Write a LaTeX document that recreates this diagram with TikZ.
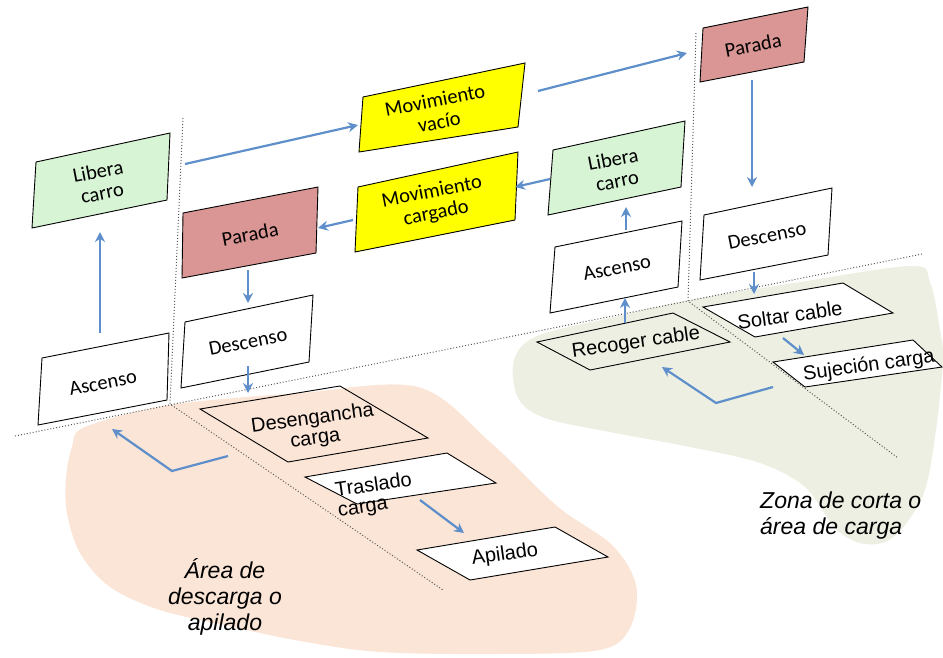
\documentclass[tikz,border=0pt]{standalone}
\usepackage{fontspec}
\setmainfont{Carlito}
\newfontfamily\arialf{Liberation Sans}
\usetikzlibrary{arrows.meta}
\definecolor{flowblue}{HTML}{5E8FCB}
\definecolor{beige}{HTML}{FBE5D6}
\definecolor{greenzone}{HTML}{ECEFE1}
\definecolor{paleg}{HTML}{D7F4D5}
\definecolor{rose}{HTML}{D99694}
\definecolor{yel}{HTML}{FFFF00}
\tikzset{
  box/.style={draw=black, line width=0.9pt},
  lbl/.style={font=\fontsize{20.5}{22}\selectfont, align=center, rotate=11, inner sep=0pt},
  glbl/.style={font=\arialf\fontsize{20}{20}\selectfont, align=center, rotate=8, inner sep=0pt},
  zonelbl/.style={font=\arialf\itshape\fontsize{23}{26}\selectfont, inner sep=0pt},
  flow/.style={draw=flowblue, line width=2.2pt, -{Stealth[length=10pt,width=10pt]}},
  sepline/.style={draw=black!65, line width=1pt, dash pattern=on 1pt off 2pt}
}
\begin{document}
\begin{tikzpicture}[x=1pt,y=-1pt]
\useasboundingbox (0,0) rectangle (943,657);
% ground zones
\fill[beige] plot[smooth cycle, tension=0.55] coordinates {(85,427) (170,405) (300,393) (418,387) (490,442) (557,506) (612,545) (636,585) (630,628) (600,650) (500,654) (380,652) (300,641) (233,627) (160,610) (110,587) (80,553) (67,513) (66,478) (72,447)};
\fill[greenzone] plot[smooth cycle, tension=0.55] coordinates {(537,336) (610,318) (690,300) (800,282) (912,266) (930,282) (940,330) (943,360) (936,430) (925,490) (905,525) (885,542) (860,543) (835,528) (805,487) (760,463) (690,447) (610,432) (545,418) (518,398) (514,360)};
% separation lines
\coordinate (hl) at (15,436);
\coordinate (hr) at (922,254);
\coordinate (v1t) at (183,118);
\coordinate (v1b) at (170,404);
\coordinate (d1e) at (443,590);
\coordinate (v2t) at (696,33);
\coordinate (v2b) at (688,301);
\coordinate (d2e) at (898,458);
\draw[sepline] (hl) -- (hr);
\draw[sepline] (v1t) -- (v1b) -- (d1e);
\draw[sepline] (v2t) -- (v2b) -- (d2e);
% upper boxes
\draw[box, fill=paleg] (36,162) -- (170,133) -- (167,200) -- (32,228) -- cycle;
\draw[box, fill=white] (42,358) -- (169,333) -- (167,400) -- (38,425) -- cycle;
\draw[box, fill=rose] (183,213) -- (318,187) -- (316,253) -- (182,278) -- cycle;
\draw[box, fill=white] (185,322) -- (313,295) -- (309,362) -- (181,388) -- cycle;
\draw[box, fill=yel] (363,97) -- (525,63) -- (518,127) -- (359,152) -- cycle;
\draw[box, fill=yel] (358,187) -- (518,152) -- (515,220) -- (355,252) -- cycle;
\draw[box, fill=paleg] (553,150) -- (685,121) -- (681,187) -- (548,215) -- cycle;
\draw[box, fill=white] (555,247) -- (682,221) -- (678,287) -- (550,313) -- cycle;
\draw[box, fill=rose] (703,28) -- (808,7) -- (804,62) -- (700,82) -- cycle;
\draw[box, fill=white] (704,215) -- (832,188) -- (828,255) -- (700,280) -- cycle;
% ground boxes
\draw[box] (200,409) -- (340,386) -- (428,438) -- (288,462) -- cycle;
\draw[box, fill=white] (305,477) -- (447,453) -- (496,483) -- (357,504) -- cycle;
\draw[box, fill=white] (417,550) -- (555,527) -- (608,557) -- (470,580) -- cycle;
\draw[box] (537,342) -- (673,313) -- (730,342) -- (590,370) -- cycle;
\draw[box, fill=white] (703,307) -- (843,283) -- (893,313) -- (755,337) -- cycle;
\draw[box, fill=white] (773,362) -- (913,340) -- (942,367) -- (805,387) -- cycle;
% labels
\node[lbl] (liberaL) at (100,182) {Libera\\carro};
\node[lbl] (ascensoL) at (103,383) {Ascenso};
\node[lbl] (paradaL) at (250,234) {Parada};
\node[lbl] (descensoL) at (248,342) {Descenso};
\node[lbl] (movvacio) at (437,111) {Movimiento\\vacío};
\node[lbl] (movcargado) at (434,203) {Movimiento\\cargado};
\node[lbl] (liberaR) at (615,170) {Libera\\carro};
\node[lbl] (ascensoR) at (617,268) {Ascenso};
\node[lbl] (paradaR) at (753,45) {Parada};
\node[lbl] (descensoR) at (767,236) {Descenso};
\node[glbl] (deseng) at (314,429) {Desengancha\\carga};
\node[glbl, align=left] (traslado) at (375,496) {Traslado\\carga};
\node[glbl] (apilado) at (505,555) {Apilado};
\node[glbl] (recoger) at (636,343) {Recoger cable};
\node[glbl] (soltar) at (790,315) {Soltar cable};
\node[glbl] (sujecion) at (869,366) {Sujeción carga};
\node[zonelbl, align=center] (zonaA) at (225,597) {Área de\\descarga o\\apilado};
\node[zonelbl, align=left, anchor=west] (zonaB) at (760,516) {Zona de corta o\\área de carga};
% connector end points
\coordinate (a1s) at (100,333); \coordinate (a1e) at (100,232);
\coordinate (a2s) at (185,164); \coordinate (a2e) at (358,125);
\coordinate (a3s) at (538,91);  \coordinate (a3e) at (687,53);
\coordinate (a4s) at (752,80);  \coordinate (a4e) at (752,187);
\coordinate (a5s) at (754,272); \coordinate (a5e) at (754,294);
\coordinate (a6s) at (783,338); \coordinate (a6e) at (804,355);
\coordinate (a7s) at (773,387); \coordinate (a7m) at (716,403); \coordinate (a7e) at (662,367);
\coordinate (a8s) at (625,323); \coordinate (a8e) at (625,298);
\coordinate (a9s) at (626,230); \coordinate (a9e) at (626,207);
\coordinate (a10s) at (550,179); \coordinate (a10e) at (515,187);
\coordinate (a11s) at (353,220); \coordinate (a11e) at (318,228);
\coordinate (a12s) at (248,270); \coordinate (a12e) at (248,303);
\coordinate (a13s) at (248,366); \coordinate (a13e) at (248,393);
\coordinate (a14s) at (420,500); \coordinate (a14e) at (464,533);
\coordinate (a15s) at (228,456); \coordinate (a15m) at (172,471); \coordinate (a15e) at (112,429);
% connectors
\draw[flow] (a1s) -- (a1e);
\draw[flow] (a2s) -- (a2e);
\draw[flow] (a3s) -- (a3e);
\draw[flow] (a4s) -- (a4e);
\draw[flow] (a5s) -- (a5e);
\draw[flow] (a6s) -- (a6e);
\draw[flow] (a7s) -- (a7m) -- (a7e);
\draw[flow] (a8s) -- (a8e);
\draw[flow] (a9s) -- (a9e);
\draw[flow] (a10s) -- (a10e);
\draw[flow] (a11s) -- (a11e);
\draw[flow] (a12s) -- (a12e);
\draw[flow] (a13s) -- (a13e);
\draw[flow] (a14s) -- (a14e);
\draw[flow] (a15s) -- (a15m) -- (a15e);
\end{tikzpicture}
\end{document}
